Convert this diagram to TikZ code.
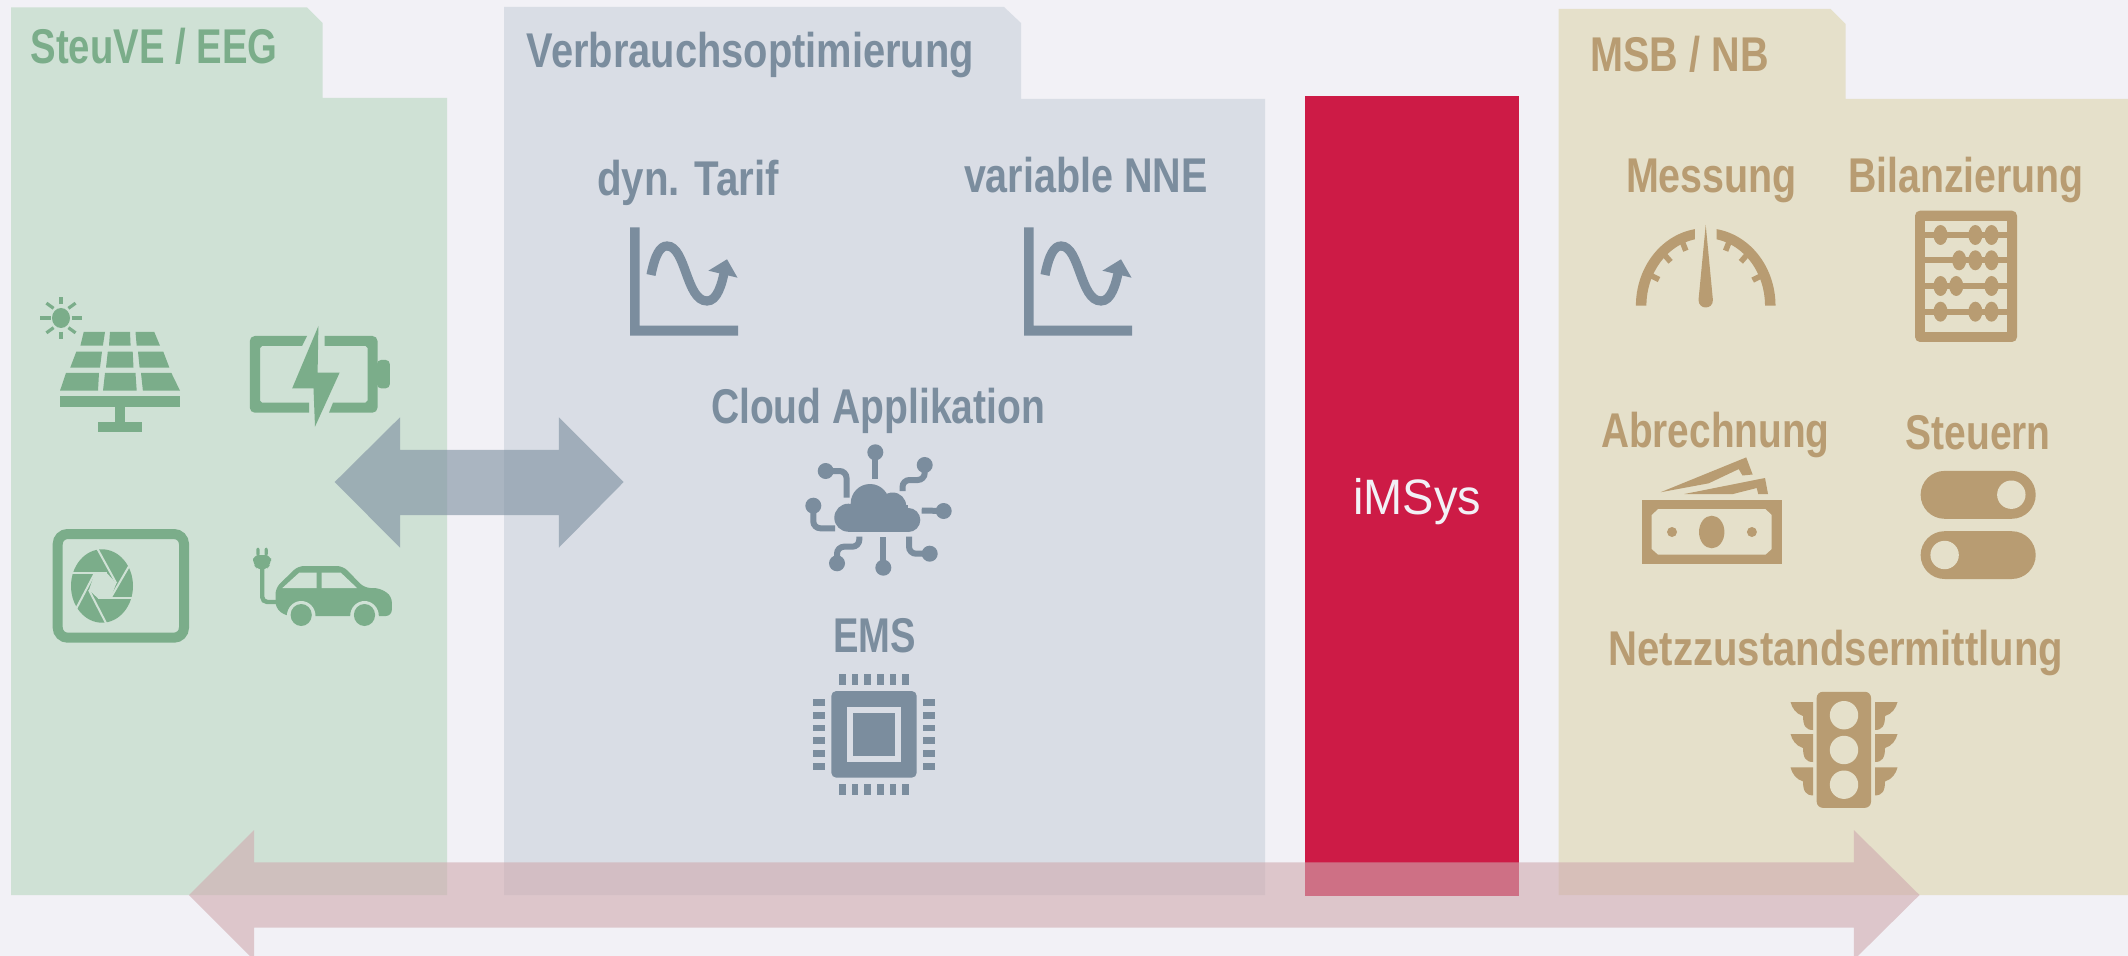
\documentclass[tikz,border=0pt]{standalone}
\usepackage{graphicx}
\usepackage{fontspec}
\setmainfont{Liberation Sans}
\newfontfamily\labelfont{Liberation Sans}
\definecolor{pagebg}{HTML}{F2F1F6}
\definecolor{greenpanel}{HTML}{CFE1D5}
\definecolor{greenink}{HTML}{7BAD8A}
\definecolor{bluepanel}{HTML}{D9DDE5}
\definecolor{blueink}{HTML}{7B8D9E}
\definecolor{tanpanel}{HTML}{E5E0CA}
\definecolor{tanink}{HTML}{B89C72}
\definecolor{redbar}{HTML}{CD1B46}
\definecolor{upperarrow}{HTML}{7B8D9E}
\definecolor{lowerarrow}{HTML}{CFAAAF}
\newcommand{\lbl}[6]{%
  \pgfmathsetmacro\lblwd{(#4-#3)*0.5}%
  \node[lblnode,anchor=base west] (#2) at (#3,#5) {\resizebox{\lblwd pt}{30pt}{\rule{0pt}{30pt}\labelfont\bfseries\fontsize{#1}{#1}\selectfont #6}};}
\tikzset{lblnode/.style={inner sep=0pt,outer sep=0pt}}
\begin{document}
\begin{tikzpicture}[x=0.5pt,y=-0.5pt,line cap=butt]
\useasboundingbox (0,0) rectangle (2128,956);
\fill[pagebg] (0,0) rectangle (2128,956);
% panels
\fill[greenpanel] (11,7.5) -- (307,7.5) -- (322.5,23) -- (322.5,98) -- (447,98) -- (447,895) -- (11,895) -- cycle;
\fill[bluepanel] (504,7) -- (1004,7) -- (1021,23) -- (1021,99) -- (1265,99) -- (1265,895) -- (504,895) -- cycle;
\fill[redbar] (1305,96.5) rectangle (1519,896);
\fill[tanpanel] (1558.5,9) -- (1830.6,9) -- (1845.6,24) -- (1845.6,99) -- (2128,99) -- (2128,895) -- (1558.5,895) -- cycle;
% titles and labels
\begin{scope}[color=greenink]
\lbl{24.4}{steuve}{30.6}{277.5}{64}{SteuVE / EEG}
\end{scope}
\begin{scope}[color=blueink]
\lbl{24.4}{verbrauch}{526.6}{974}{68}{Verbrauchsoptimierung}
\lbl{24.4}{tarif}{597}{779}{196}{dyn. Tarif}
\lbl{24.4}{nne}{964}{1207.7}{192.7}{variable NNE}
\lbl{24.4}{cloudlbl}{711}{1045}{423}{Cloud Applikation}
\lbl{24.4}{ems}{833}{915.7}{652}{EMS}
\end{scope}
\begin{scope}[color=tanink]
\lbl{24.4}{msb}{1590.6}{1768.7}{71.7}{MSB / NB}
\lbl{24.4}{messung}{1626}{1797}{192.7}{Messung}
\lbl{24.4}{bilanz}{1848}{2083.7}{192.7}{Bilanzierung}
\lbl{24.4}{abrech}{1601}{1829.5}{447.9}{Abrechnung}
\lbl{24.4}{steuern}{1905.6}{2050.7}{449.6}{Steuern}
\lbl{24.4}{netz}{1608.6}{2063}{665}{Netzzustandsermittlung}
\end{scope}
\node[lblnode,anchor=base west,text=pagebg] (imsys) at (1353.3,514) {\resizebox{63.85pt}{30pt}{\rule{0pt}{30pt}\fontsize{24.9}{24.9}\selectfont iMSys}};
% solar panel
\begin{scope}[greenink]
\fill (61,318) ellipse [x radius=9,y radius=10];
\foreach \a in {0,45,...,315}
  \draw[line width=1.6pt] ({61+10.5*cos(\a)},{318-13.7*sin(\a)}) -- ({61+20.6*cos(\a)},{318-21*sin(\a)});
\fill (83.7,332)--(105,332)--(102.9,345.7)--(80.4,345.7)--cycle;
\fill (110,332)--(130,332)--(130.6,345.7)--(109,345.7)--cycle;
\fill (135.5,332)--(154.3,332)--(160,345.7)--(136.7,345.7)--cycle;
\fill (76.3,351.7)--(102,351.7)--(100,367.7)--(70.2,367.7)--cycle;
\fill (107.8,351.7)--(132.7,351.7)--(133.5,367.7)--(106,367.7)--cycle;
\fill (138,351.7)--(163.3,351.7)--(169.4,367.7)--(139.6,367.7)--cycle;
\fill (66,373)--(99,373)--(98,390.7)--(60,390.7)--cycle;
\fill (105,373)--(135.5,373)--(136.7,390.7)--(103,390.7)--cycle;
\fill (141,373)--(171.4,373)--(180,390.7)--(142.9,390.7)--cycle;
\fill (60,396) rectangle (180,407);
\fill (115,407) rectangle (124.5,422);
\fill (98,421.7) rectangle (141.6,431.7);
% battery
\fill (307,336) [rounded corners=2.5pt] --(249.8,336)--(249.8,412.7) [sharp corners] --(309,412.7)--(309,402.7)--(262,402.7)--(260,400.7)--(260,348)--(262,346)--(302,346)--cycle;
\fill (324.5,336) [rounded corners=2.5pt] --(377.5,336)--(377.5,412.7) [sharp corners] --(329,412.7)--(333,402.7)--(365.5,402.7)--(367.5,400.7)--(367.5,348)--(365.5,346)--(324.5,346)--cycle;
\fill[rounded corners=2pt] (377,360)--(389.8,360)--(389.8,388.3)--(377,388.3)--cycle;
\fill (318.4,326)--(292.2,388.3)--(313.5,388.3)--(315,426.7)--(339.6,372.7)--(317.6,372.7)--cycle;
% heat pump
\draw[line width=5pt,rounded corners=5pt] (57.7,534)--(184,534)--(184,637.7)--(57.7,637.7)--cycle;
\fill (102,586) ellipse [x radius=31,y radius=36.7];
\fill[greenpanel] (94.7,573.3)--(107,573.3)--(116.3,583.3)--(111,597.3)--(98,598.3)--(89,590)--cycle;
\begin{scope}[greenpanel,line width=1pt]
\draw (71,573.3)--(107,573.3);
\draw (97,548)--(116.3,583.3);
\draw (132,561)--(111,597.3);
\draw (134,598.3)--(98,598.3);
\draw (107,625)--(89,590);
\draw (75,611)--(94.7,573.3);
\end{scope}
% car
\fill[rounded corners=1pt] (256.3,547.7) rectangle (259.6,556);
\fill[rounded corners=1pt] (264.5,547.7) rectangle (267.8,556);
\fill[rounded corners=3pt] (253,555)--(271,555)--(271,564)--(266,570)--(258,570)--(253,564)--cycle;
\draw[line width=2.2pt,rounded corners=2.5pt] (262.2,568)--(262.2,602)--(277,602);
\fill[rounded corners=3pt] (298,566)--(343,566)--(364.5,588)--(379.6,588)--(391.8,596)--(391.8,616)--(285.7,616)--(275.5,608)--(275.5,588)--cycle;
\fill[greenpanel] (282.4,588)--(299.2,572.7)--(316.7,572.7)--(316.7,588)--cycle;
\fill[greenpanel] (321.6,572.7)--(340.8,572.7)--(357,588)--(321.6,588)--cycle;
\fill[greenpanel] (301.2,616) ellipse [x radius=14.3,y radius=15];
\fill[greenpanel] (364.5,616) ellipse [x radius=14.3,y radius=15];
\fill[greenpanel] (285,617) rectangle (381,632);
\fill (301.2,615) ellipse [x radius=10.6,y radius=11];
\fill (364.5,615) ellipse [x radius=10.6,y radius=11];
\end{scope}
% charts
\begin{scope}[blueink]
\foreach \dx in {0,394}{
  \begin{scope}[shift={(\dx,0)}]
  \fill (630,227.3)--(639.6,227.3)--(639.6,325.7)--(738,325.7)--(738,335.7)--(630,335.7)--cycle;
  \draw[line width=4.6pt] (651,275) .. controls (655,255) and (660,246) .. (667,246) .. controls (686,246) and (686,301) .. (707,301) .. controls (717,301) and (722,285) .. (725,268);
  \fill (727,259.3)--(708.4,270.7)--(737.5,277.7)--cycle;
  \end{scope}
}
% cloud
\fill (848.3,517.7) circle [radius=14];
\fill (870,503.3) circle [radius=19.3];
\fill (892.7,506) circle [radius=13.5];
\fill (908.3,520) circle [radius=12];
\fill (848.3,505) rectangle (908.3,531.7);
\foreach \cx/\cy in {875.3/452.3,825.7/471,924.7/465,813.3/505.7,943.7/511,837/563.3,883.3/567.7,929.7/553.7}
  \fill (\cx,\cy) circle [radius=8];
\begin{scope}[line width=3pt]
\draw (875.3,452.3)--(875.3,479.3);
\draw[rounded corners=3.5pt] (825.7,471)--(846.5,471)--(846.5,497.7);
\draw[rounded corners=3.5pt] (924.7,465)--(924.7,480)--(902.5,480)--(902.5,491);
\draw[rounded corners=3.5pt] (813.3,505.7)--(813.3,528.3)--(835,528.3);
\draw (943.7,511)--(921.7,510.5);
\draw[rounded corners=3.5pt] (837,563.3)--(837,546.7)--(859.3,546.7)--(859.3,536.7);
\draw (883.3,567.7)--(883.3,536.7);
\draw[rounded corners=3.5pt] (929.7,553.7)--(909,553.7)--(909,536.7);
\end{scope}
% chip
\fill[rounded corners=2.5pt] (831.3,691) rectangle (916.7,777.7);
\fill[bluepanel] (847,707.3) rectangle (901,761.7);
\fill (853.3,713.3) rectangle (895,755.7);
\foreach \p in {842.3,855,867.7,880.3,893,905.7}{
  \fill ({\p-3.35},674) rectangle ({\p+3.35},685.3);
  \fill ({\p-3.35},783.7) rectangle ({\p+3.35},795);
}
\foreach \p in {702.3,715.3,728,740.7,753.3,766.3}{
  \fill (813.3,{\p-3.35}) rectangle (825.3,{\p+3.35});
  \fill (922.7,{\p-3.35}) rectangle (934.7,{\p+3.35});
}
\end{scope}
% tan icons
\begin{scope}[tanink]
% gauge
\fill plot[domain=180:99,samples=40] ({1705.7+69.8*cos(\x)},{305.7-77.5*sin(\x)}) -- plot[domain=100.5:180,samples=40] ({1705.7+59.3*cos(\x)},{305.7-67.5*sin(\x)}) -- cycle;
\fill plot[domain=0:81,samples=40] ({1705.7+69.8*cos(\x)},{305.7-77.5*sin(\x)}) -- plot[domain=79.5:0,samples=40] ({1705.7+59.3*cos(\x)},{305.7-67.5*sin(\x)}) -- cycle;
\foreach \t in {154,132.5,112.5,25.5,47.5,67.5}
  \draw[line width=2.8pt] ({1705.7+61*cos(\t)},{305.7-69*sin(\t)}) -- ({1705.7+52*cos(\t)},{305.7-59.5*sin(\t)});
\fill (1705.7,225) -- (1712.9,300) .. controls (1713,310) and (1698.5,310) .. (1698.5,300) -- cycle;
% abacus
\fill[rounded corners=2.5pt] (1915,210.7) rectangle (2017,342);
\fill[tanpanel] (1925,220.7) rectangle (2007,332.3);
\foreach \ry in {235,260.3,286,311.7}
  \fill (1925,{\ry-3}) rectangle (2007,{\ry+3});
\foreach \bx/\by in {1940.5/235,1975.3/235,1991.5/235,1959.2/260.3,1975.3/260.3,1991.5/260.3,1940.5/286,1956.2/286,1991.5/286,1940.5/311.7,1975.3/311.7,1991.5/311.7}
  \fill (\bx,\by) ellipse [x radius=7,y radius=10];
% money
\fill (1642,500) rectangle (1781.9,564.2);
\fill[tanpanel] (1658,509.2)--(1765.5,509.2)--(1771.7,515)--(1771.7,549)--(1765.5,554.6)--(1658,554.6)--(1651.7,549)--(1651.7,515)--cycle;
\fill (1711.7,532) ellipse [x radius=12.7,y radius=16.3];
\fill (1672,532) circle [radius=5];
\fill (1751.9,532) circle [radius=5];
\fill (1660.7,492.2)--(1746.2,457.4)--(1752.6,474.5)--(1742.5,475.5)--(1738.7,469.1)--(1708.7,483.3)--cycle;
\fill (1684.4,494)--(1765,478)--(1768,494)--(1758.2,494)--(1756.7,488)--(1733,494)--cycle;
% toggles
\fill[rounded corners=12pt] (1920.6,470.9) rectangle (2035.7,518.8);
\fill[tanpanel] (2011.3,494.7) circle [radius=14.2];
\fill[rounded corners=12pt] (1920.6,531.2) rectangle (2035.7,579);
\fill[tanpanel] (1944.6,555) circle [radius=14.2];
% traffic light
\fill[rounded corners=3pt] (1816.7,691.8) rectangle (1871,807.8);
\foreach \cy in {715.2,750,784.7}
  \fill[tanpanel] (1844,\cy) circle [radius=14.2];
\foreach \T in {702,734,767.4}
  \foreach \s in {-1,1}
    \fill ({1844+\s*53.5},\T) -- ({1844+\s*31},\T) -- ({1844+\s*31},{\T+28}) .. controls ({1844+\s*38},{\T+28}) and ({1844+\s*41},{\T+24}) .. ({1844+\s*41},{\T+14}) .. controls ({1844+\s*48},{\T+12}) and ({1844+\s*52},{\T+6}) .. cycle;
\end{scope}
% arrows
\fill[upperarrow,fill opacity=.6] (334.7,482) -- (400,417.3) -- (400,450) -- (558.8,450) -- (558.8,417.3) -- (623.7,482) -- (558.8,547.7) -- (558.8,515) -- (400,515) -- (400,547.7) -- cycle;
\fill[lowerarrow,fill opacity=.6] (189,895) -- (254,830) -- (254,862.3) -- (1853.8,862.3) -- (1853.8,830) -- (1919.5,895) -- (1853.8,960) -- (1853.8,927.7) -- (254,927.7) -- (254,960) -- cycle;
\end{tikzpicture}
\end{document}
